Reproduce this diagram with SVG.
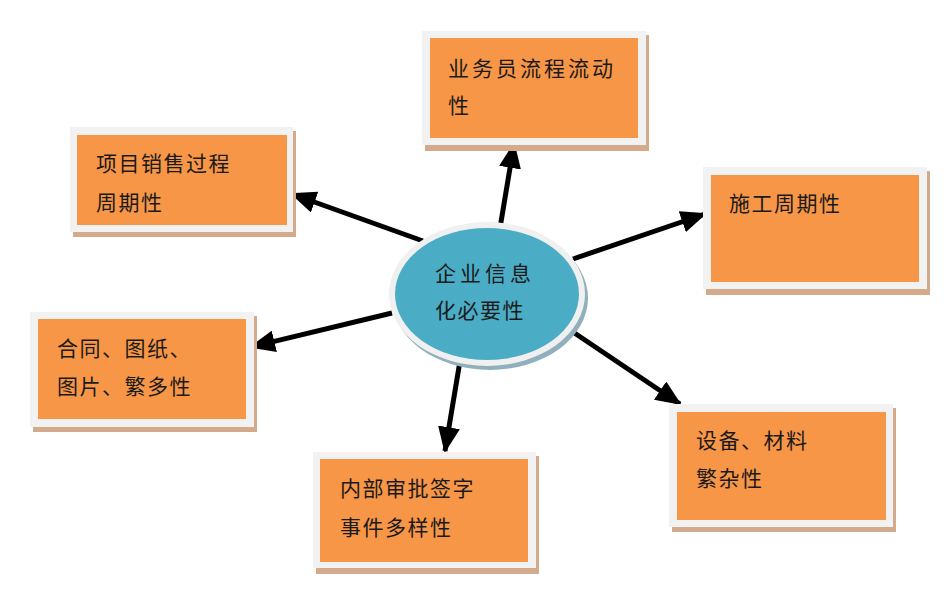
<svg xmlns="http://www.w3.org/2000/svg" width="949" height="589" viewBox="0 0 949 589">
<defs>
<style>
.sh{fill:#d3aa8c}
.fr{fill:#f2f2f2}
.in{fill:#f79646}
.t{font-family:"Noto Sans CJK SC","Noto Sans",sans-serif;font-size:21px;fill:#1a1a1a;letter-spacing:1.5px}
.c{fill:none;stroke:#000;stroke-width:5;marker-end:url(#ah)}
</style>
<marker id="ah" markerUnits="userSpaceOnUse" markerWidth="26" markerHeight="22" viewBox="0 0 26 22" refX="24" refY="11" orient="auto">
<path d="M0,0 L26,11 L0,22 Z" fill="#000"/>
</marker>
</defs>
<rect width="949" height="589" fill="#fff"/>
<g id="connectors">
<line class="c" x1="500" y1="228" x2="514" y2="144"/>
<line class="c" x1="423" y1="241" x2="292" y2="194"/>
<line class="c" x1="392" y1="313" x2="251" y2="347"/>
<line class="c" x1="573" y1="259" x2="705" y2="214"/>
<line class="c" x1="573" y1="332" x2="680" y2="404"/>
<line class="c" x1="460" y1="361" x2="445" y2="451"/>
</g>
<g id="center">
<ellipse cx="490" cy="298" rx="98" ry="72" fill="#8fb0bc"/>
<ellipse cx="487" cy="294" rx="98" ry="72" fill="#f0f0f0"/>
<ellipse cx="487" cy="294" rx="92" ry="66" fill="#4bacc6"/>
<text class="t" x="435" y="281" style="letter-spacing:4px">企业信息</text>
<text class="t" x="435" y="318">化必要性</text>
</g>
<g id="n-top">
<rect class="sh" x="425" y="35" width="224" height="116"/>
<rect class="fr" x="422" y="31" width="224" height="114"/>
<rect class="in" x="430" y="38" width="208" height="100"/>
<text class="t" x="448" y="76" style="letter-spacing:3px">业务员流程流动</text>
<text class="t" x="448" y="113">性</text>
</g>
<g id="n-topleft">
<rect class="sh" x="73" y="131" width="223" height="106"/>
<rect class="fr" x="70" y="127" width="223" height="105"/>
<rect class="in" x="77" y="135" width="210" height="90"/>
<text class="t" x="96" y="171">项目销售过程</text>
<text class="t" x="96" y="210">周期性</text>
</g>
<g id="n-right">
<rect class="sh" x="706" y="171" width="224" height="124"/>
<rect class="fr" x="703" y="167" width="224" height="122"/>
<rect class="in" x="711" y="175" width="208" height="107"/>
<text class="t" x="729" y="211">施工周期性</text>
</g>
<g id="n-left">
<rect class="sh" x="33" y="316" width="224" height="116"/>
<rect class="fr" x="30" y="312" width="224" height="115"/>
<rect class="in" x="38" y="319" width="208" height="100"/>
<text class="t" x="57" y="356">合同、图纸、</text>
<text class="t" x="57" y="394">图片、繁多性</text>
</g>
<g id="n-bottomright">
<rect class="sh" x="672" y="408" width="224" height="124"/>
<rect class="fr" x="669" y="404" width="224" height="123"/>
<rect class="in" x="677" y="412" width="209" height="108"/>
<text class="t" x="696" y="448">设备、材料</text>
<text class="t" x="696" y="486">繁杂性</text>
</g>
<g id="n-bottom">
<rect class="sh" x="316" y="456" width="223" height="118"/>
<rect class="fr" x="313" y="452" width="223" height="116"/>
<rect class="in" x="320" y="459" width="208" height="103"/>
<text class="t" x="340" y="496">内部审批签字</text>
<text class="t" x="340" y="535">事件多样性</text>
</g>
</svg>
